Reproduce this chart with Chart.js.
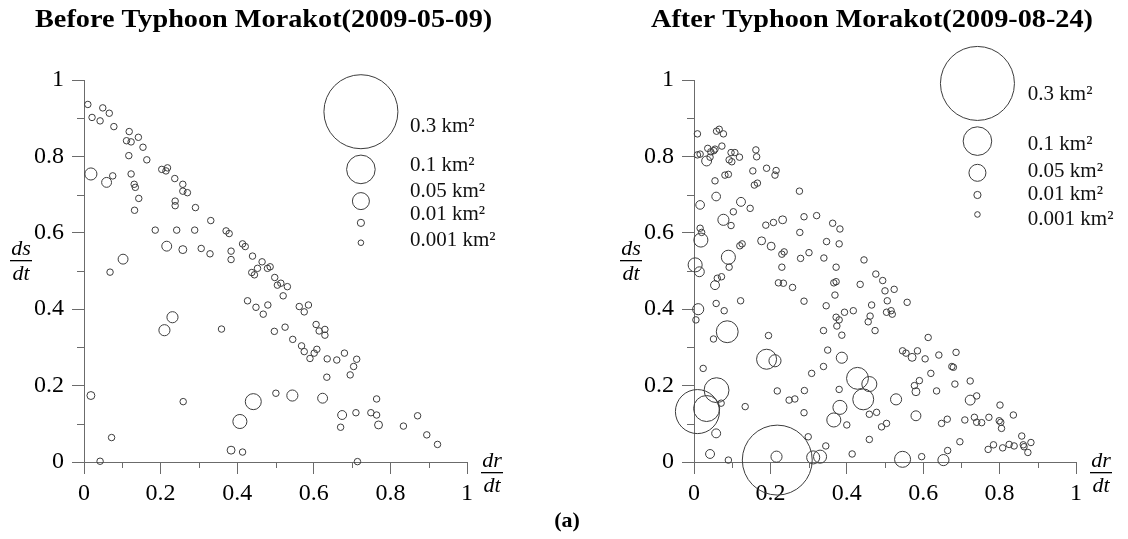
<!DOCTYPE html>
<html>
<head>
<meta charset="utf-8">
<script src="https://cdn.jsdelivr.net/npm/chart.js@4.4.1/dist/chart.umd.min.js"></script>
<style>
  body { margin: 0; background: #fff; }
  #wrap { position: relative; width: 1128px; height: 539px; }
  #before { position: absolute; left: 0; top: 0; }
  #after { position: absolute; left: 564px; top: 0; }
  #caption { position: absolute; left: 3px; width: 1128px; top: 507px; text-align: center;
             font: bold 22px "Liberation Serif", serif; color: #000; }
</style>
</head>
<body>
<div id="wrap">
  <canvas id="before" width="564" height="539"></canvas>
  <canvas id="after" width="564" height="539"></canvas>
  <div id="caption">(a)</div>
</div>
<script>
// Before typhoon: dr/dt, ds/dt and landslide area (km²)
const beforeDrdt = [
  0.010, 0.049, 0.066, 0.021, 0.042, 0.078, 0.118, 0.142, 0.111, 0.123,
  0.154, 0.117, 0.164, 0.203, 0.214, 0.218, 0.237, 0.258, 0.258, 0.270,
  0.238, 0.238, 0.291, 0.331, 0.371, 0.379, 0.414, 0.421, 0.440, 0.465,
  0.018, 0.059, 0.075, 0.123, 0.131, 0.134, 0.143, 0.132, 0.186, 0.242,
  0.289, 0.216, 0.258, 0.306, 0.329, 0.384, 0.384, 0.102, 0.068, 0.438,
  0.445, 0.453, 0.479, 0.486, 0.498, 0.505, 0.427, 0.449, 0.468, 0.480,
  0.497, 0.359, 0.210, 0.231, 0.018, 0.259, 0.072, 0.042, 0.442, 0.407,
  0.384, 0.414, 0.501, 0.514, 0.531, 0.520, 0.525, 0.562, 0.575, 0.586,
  0.606, 0.614, 0.629, 0.629, 0.545, 0.568, 0.575, 0.590, 0.601, 0.608,
  0.635, 0.660, 0.680, 0.712, 0.704, 0.695, 0.634, 0.544, 0.623, 0.674,
  0.710, 0.670, 0.749, 0.764, 0.764, 0.769, 0.834, 0.871, 0.895, 0.923, 0.714
];
const beforeDsdt = [
  0.936, 0.927, 0.913, 0.902, 0.893, 0.878, 0.865, 0.850, 0.841, 0.838,
  0.824, 0.802, 0.791, 0.766, 0.762, 0.770, 0.742, 0.727, 0.709, 0.705,
  0.683, 0.671, 0.666, 0.632, 0.605, 0.598, 0.571, 0.564, 0.539, 0.524,
  0.754, 0.732, 0.749, 0.754, 0.727, 0.719, 0.690, 0.659, 0.607, 0.607,
  0.607, 0.565, 0.556, 0.559, 0.545, 0.552, 0.530, 0.531, 0.497, 0.496,
  0.490, 0.507, 0.507, 0.511, 0.483, 0.463, 0.422, 0.405, 0.387, 0.411,
  0.342, 0.348, 0.345, 0.379, 0.174, 0.158, 0.064, 0.002, 0.158, 0.106,
  0.031, 0.026, 0.180, 0.468, 0.459, 0.435, 0.353, 0.407, 0.393, 0.411,
  0.360, 0.343, 0.347, 0.332, 0.321, 0.304, 0.289, 0.271, 0.285, 0.295,
  0.270, 0.267, 0.285, 0.269, 0.250, 0.228, 0.222, 0.174, 0.167, 0.123,
  0.129, 0.091, 0.129, 0.123, 0.165, 0.097, 0.094, 0.121, 0.071, 0.046, 0.001
];
const beforeArea = [
  0.006, 0.006, 0.006, 0.006, 0.006, 0.006, 0.006, 0.006, 0.006, 0.006,
  0.006, 0.006, 0.006, 0.006, 0.006, 0.006, 0.006, 0.006, 0.006, 0.006,
  0.006, 0.006, 0.006, 0.006, 0.006, 0.006, 0.006, 0.006, 0.006, 0.006,
  0.030, 0.021, 0.006, 0.006, 0.006, 0.006, 0.006, 0.006, 0.006, 0.006,
  0.006, 0.021, 0.013, 0.006, 0.006, 0.006, 0.006, 0.021, 0.006, 0.006,
  0.006, 0.006, 0.006, 0.006, 0.006, 0.006, 0.006, 0.006, 0.006, 0.006,
  0.006, 0.006, 0.026, 0.026, 0.013, 0.006, 0.006, 0.006, 0.046, 0.038,
  0.013, 0.006, 0.006, 0.006, 0.006, 0.006, 0.006, 0.006, 0.006, 0.006,
  0.006, 0.006, 0.006, 0.006, 0.006, 0.006, 0.006, 0.006, 0.006, 0.006,
  0.006, 0.006, 0.006, 0.006, 0.006, 0.006, 0.006, 0.026, 0.021, 0.017,
  0.006, 0.006, 0.006, 0.006, 0.006, 0.013, 0.006, 0.006, 0.006, 0.006, 0.006
];

// After typhoon
const afterDrdt = [
  0.009, 0.059, 0.066, 0.077, 0.009, 0.016, 0.036, 0.044, 0.052, 0.055,
  0.073, 0.042, 0.033, 0.097, 0.107, 0.092, 0.099, 0.119, 0.162, 0.164,
  0.081, 0.090, 0.055, 0.154, 0.190, 0.212, 0.215, 0.158, 0.166, 0.276,
  0.058, 0.016, 0.123, 0.147, 0.103, 0.077, 0.097, 0.016, 0.020, 0.018,
  0.188, 0.208, 0.232, 0.288, 0.321, 0.277, 0.363, 0.382, 0.177, 0.202,
  0.120, 0.126, 0.090, 0.230, 0.236, 0.279, 0.301, 0.340, 0.347, 0.380,
  0.445, 0.003, 0.014, 0.092, 0.230, 0.372, 0.061, 0.072, 0.055, 0.221,
  0.234, 0.258, 0.366, 0.372, 0.369, 0.435, 0.288, 0.346, 0.394, 0.417,
  0.372, 0.380, 0.374, 0.387, 0.456, 0.339, 0.350, 0.339, 0.387, 0.308,
  0.289, 0.249, 0.264, 0.218, 0.288, 0.195, 0.190, 0.212, 0.122, 0.058,
  0.079, 0.011, 0.005, 0.087, 0.051, 0.024, 0.059, 0.033, 0.009, 0.071,
  0.134, 0.058, 0.042, 0.090, 0.218, 0.216, 0.299, 0.312, 0.330, 0.345,
  0.414, 0.459, 0.382, 0.366, 0.400, 0.380, 0.428, 0.459, 0.443, 0.459,
  0.476, 0.494, 0.500, 0.524, 0.506, 0.465, 0.461, 0.474, 0.504, 0.516,
  0.519, 0.558, 0.613, 0.546, 0.555, 0.571, 0.585, 0.605, 0.641, 0.686,
  0.675, 0.679, 0.620, 0.590, 0.577, 0.581, 0.635, 0.683, 0.723, 0.529,
  0.581, 0.478, 0.491, 0.504, 0.648, 0.663, 0.709, 0.734, 0.740, 0.753,
  0.723, 0.740, 0.772, 0.801, 0.836, 0.799, 0.803, 0.805, 0.696, 0.664,
  0.596, 0.546, 0.653, 0.770, 0.784, 0.808, 0.825, 0.838, 0.858, 0.862,
  0.864, 0.882, 0.874
];
const afterDsdt = [
  0.859, 0.866, 0.871, 0.859, 0.804, 0.806, 0.821, 0.812, 0.815, 0.819,
  0.827, 0.798, 0.788, 0.810, 0.810, 0.791, 0.786, 0.798, 0.817, 0.799,
  0.751, 0.753, 0.736, 0.762, 0.769, 0.751, 0.763, 0.725, 0.730, 0.709,
  0.695, 0.673, 0.681, 0.664, 0.655, 0.634, 0.619, 0.612, 0.601, 0.581,
  0.620, 0.627, 0.634, 0.642, 0.645, 0.601, 0.625, 0.610, 0.579, 0.565,
  0.566, 0.571, 0.536, 0.544, 0.550, 0.533, 0.548, 0.534, 0.577, 0.571,
  0.529, 0.516, 0.498, 0.510, 0.510, 0.510, 0.481, 0.485, 0.463, 0.469,
  0.468, 0.457, 0.469, 0.472, 0.437, 0.465, 0.421, 0.409, 0.392, 0.396,
  0.379, 0.372, 0.356, 0.332, 0.367, 0.344, 0.293, 0.250, 0.273, 0.232,
  0.187, 0.162, 0.165, 0.186, 0.129, 0.331, 0.269, 0.265, 0.422, 0.415,
  0.396, 0.400, 0.372, 0.341, 0.322, 0.245, 0.188, 0.140, 0.132, 0.154,
  0.145, 0.075, 0.021, 0.005, 0.005, 0.014, 0.066, 0.012, 0.014, 0.042,
  0.021, 0.059, 0.143, 0.110, 0.097, 0.190, 0.219, 0.204, 0.164, 0.125,
  0.492, 0.475, 0.448, 0.452, 0.422, 0.411, 0.382, 0.344, 0.392, 0.396,
  0.387, 0.418, 0.326, 0.291, 0.285, 0.274, 0.291, 0.270, 0.280, 0.287,
  0.250, 0.248, 0.232, 0.213, 0.200, 0.184, 0.186, 0.204, 0.212, 0.164,
  0.121, 0.130, 0.092, 0.101, 0.101, 0.112, 0.110, 0.117, 0.104, 0.103,
  0.162, 0.173, 0.117, 0.149, 0.123, 0.108, 0.104, 0.088, 0.053, 0.030,
  0.014, 0.007, 0.005, 0.033, 0.045, 0.037, 0.046, 0.042, 0.068, 0.045,
  0.040, 0.051, 0.025
];
const afterArea = [
  0.006, 0.006, 0.006, 0.006, 0.006, 0.006, 0.006, 0.006, 0.006, 0.006,
  0.006, 0.006, 0.021, 0.006, 0.006, 0.006, 0.006, 0.006, 0.006, 0.006,
  0.006, 0.006, 0.006, 0.006, 0.006, 0.006, 0.006, 0.006, 0.006, 0.006,
  0.016, 0.016, 0.017, 0.006, 0.006, 0.026, 0.006, 0.006, 0.006, 0.038,
  0.006, 0.006, 0.013, 0.006, 0.006, 0.006, 0.006, 0.006, 0.013, 0.013,
  0.006, 0.006, 0.038, 0.006, 0.006, 0.006, 0.006, 0.006, 0.006, 0.006,
  0.006, 0.038, 0.021, 0.006, 0.006, 0.006, 0.006, 0.006, 0.017, 0.006,
  0.006, 0.006, 0.006, 0.006, 0.006, 0.006, 0.006, 0.006, 0.006, 0.006,
  0.006, 0.006, 0.006, 0.006, 0.006, 0.006, 0.006, 0.006, 0.026, 0.006,
  0.006, 0.006, 0.006, 0.006, 0.006, 0.006, 0.063, 0.030, 0.006, 0.006,
  0.006, 0.026, 0.006, 0.071, 0.006, 0.006, 0.084, 0.089, 0.168, 0.006,
  0.006, 0.017, 0.017, 0.006, 0.282, 0.026, 0.006, 0.034, 0.034, 0.006,
  0.006, 0.006, 0.038, 0.038, 0.006, 0.006, 0.071, 0.042, 0.067, 0.006,
  0.006, 0.006, 0.006, 0.006, 0.006, 0.006, 0.006, 0.006, 0.006, 0.006,
  0.006, 0.006, 0.006, 0.006, 0.006, 0.013, 0.006, 0.006, 0.006, 0.006,
  0.006, 0.006, 0.006, 0.006, 0.006, 0.013, 0.006, 0.006, 0.006, 0.026,
  0.021, 0.006, 0.006, 0.006, 0.006, 0.006, 0.006, 0.006, 0.006, 0.006,
  0.021, 0.006, 0.006, 0.006, 0.006, 0.006, 0.006, 0.006, 0.006, 0.006,
  0.006, 0.046, 0.026, 0.006, 0.006, 0.006, 0.006, 0.006, 0.006, 0.006,
  0.006, 0.006, 0.006
];

const legendAreas = [0.3, 0.1, 0.05, 0.01, 0.001];
const legendLabels = ['0.3 km²', '0.1 km²', '0.05 km²', '0.01 km²', '0.001 km²'];
const axisTicks = [0, 0.2, 0.4, 0.6, 0.8, 1];
const minorTicks = [0.1, 0.3, 0.5, 0.7, 0.9];

const SERIF = '"Liberation Serif", "Times New Roman", serif';
const AXIS_COLOR = '#6b6b6b';
const MARK_COLOR = '#3c3c3c';

// area -> circle radius in px
const AREA_STOPS = [0.001, 0.01, 0.05, 0.1, 0.3];
const RADIUS_STOPS = [2.8, 3.6, 8.5, 14.3, 37];
function areaToRadius(a) {
  if (a <= AREA_STOPS[0]) return RADIUS_STOPS[0];
  for (let i = 1; i < AREA_STOPS.length; i++) {
    if (a <= AREA_STOPS[i]) {
      const t = (a - AREA_STOPS[i - 1]) / (AREA_STOPS[i] - AREA_STOPS[i - 1]);
      return RADIUS_STOPS[i - 1] + t * (RADIUS_STOPS[i] - RADIUS_STOPS[i - 1]);
    }
  }
  return RADIUS_STOPS[RADIUS_STOPS.length - 1];
}

function drawFraction(ctx, top, bottom, cx, barY) {
  ctx.font = 'italic 22px ' + SERIF;
  ctx.fillStyle = '#000';
  ctx.textAlign = 'center';
  ctx.textBaseline = 'alphabetic';
  ctx.fillText(top, cx, barY - 5);
  ctx.fillText(bottom, cx, barY + 20);
  ctx.fillRect(cx - 11, barY, 22, 1.3);
}

// title, minor ticks, size legend and the dr/dt, ds/dt labels
const decorPlugin = {
  id: 'decor',
  afterDatasetsDraw(chart, args, opts) {
    const ctx = chart.ctx;
    const xs = chart.scales.x;
    const ys = chart.scales.y;
    ctx.save();

    // the source title face is a little wider than Liberation Serif
    ctx.save();
    ctx.translate(opts.title.x, opts.title.y);
    ctx.scale(1.13, 1);
    ctx.font = 'bold 25px ' + SERIF;
    ctx.fillStyle = '#000';
    ctx.textAlign = 'left';
    ctx.textBaseline = 'alphabetic';
    ctx.fillText(opts.title.text, 0, 0);
    ctx.restore();

    ctx.strokeStyle = AXIS_COLOR;
    ctx.lineWidth = 1;
    ctx.beginPath();
    minorTicks.forEach((v) => {
      const px = Math.round(xs.getPixelForValue(v)) + 0.5;
      ctx.moveTo(px, ys.bottom);
      ctx.lineTo(px, ys.bottom + 6);
      const py = Math.round(ys.getPixelForValue(v)) + 0.5;
      ctx.moveTo(xs.left - 7, py);
      ctx.lineTo(xs.left, py);
    });
    ctx.stroke();

    // size legend
    ctx.strokeStyle = MARK_COLOR;
    legendAreas.forEach((a, i) => {
      ctx.beginPath();
      ctx.arc(xs.getPixelForValue(opts.bubbleX), ys.getPixelForValue(opts.bubbleY[i]),
        areaToRadius(a), 0, Math.PI * 2);
      ctx.stroke();
    });
    ctx.fillStyle = '#111';
    ctx.font = '21px ' + SERIF;
    ctx.textAlign = 'left';
    ctx.textBaseline = 'middle';
    legendLabels.forEach((t, i) => {
      ctx.fillText(t, xs.getPixelForValue(opts.textX), ys.getPixelForValue(opts.textY[i]));
    });

    drawFraction(ctx, 'ds', 'dt', opts.yLabel.x, opts.yLabel.bar);
    drawFraction(ctx, 'dr', 'dt', opts.xLabel.x, opts.xLabel.bar);
    ctx.restore();
  }
};

function makePoints(xs, ys, areas) {
  return xs.map((x, i) => ({ x: x, y: ys[i], r: areaToRadius(areas[i]) }));
}

function axis(extra) {
  return Object.assign({
    type: 'linear',
    min: 0,
    max: 1,
    afterBuildTicks: (scale) => { scale.ticks = axisTicks.map((v) => ({ value: v })); },
    border: { display: true, color: AXIS_COLOR, width: 1 },
    grid: { drawOnChartArea: false, drawTicks: true, tickLength: 12, color: AXIS_COLOR, lineWidth: 1 },
  }, extra);
}

function makeChart(id, points, layout) {
  return new Chart(document.getElementById(id), {
    type: 'bubble',
    data: {
      datasets: [{
        data: points,
        backgroundColor: 'rgba(0,0,0,0)',
        borderColor: MARK_COLOR,
        borderWidth: 1,
        clip: false,
      }],
    },
    plugins: [decorPlugin],
    options: {
      responsive: false,
      animation: false,
      devicePixelRatio: 1,
      events: [],
      layout: { padding: { left: 0, right: layout.padRight, top: 80, bottom: 37 } },
      plugins: {
        legend: { display: false },
        tooltip: { enabled: false },
        title: { display: false },
        decor: layout.decor,
      },
      scales: {
        x: axis({
          position: 'bottom',
          afterFit: (scale) => { scale.height = 40; },
          ticks: {
            color: '#000', padding: 5, maxRotation: 0, autoSkip: false,
            font: { family: SERIF, size: 24 },
            callback: (v) => String(v),
          },
        }),
        y: axis({
          position: 'left',
          afterFit: (scale) => { scale.width = layout.yWidth; },
          ticks: {
            color: '#000', padding: 8, autoSkip: false,
            font: { family: SERIF, size: 24 },
            callback: (v) => String(v),
          },
        }),
      },
    },
  });
}

makeChart('before', makePoints(beforeDrdt, beforeDsdt, beforeArea), {
  padRight: 97, yWidth: 84,
  decor: {
    title: { text: 'Before Typhoon Morakot(2009-05-09)', x: 35, y: 27 },
    bubbleX: 0.723, bubbleY: [0.917, 0.766, 0.683, 0.626, 0.574],
    textX: 0.851, textY: [0.878, 0.775, 0.709, 0.647, 0.581],
    yLabel: { x: 21, bar: 260 },
    xLabel: { x: 492, bar: 472 },
  },
});

makeChart('after', makePoints(afterDrdt, afterDsdt, afterArea), {
  padRight: 52, yWidth: 130,
  decor: {
    title: { text: 'After Typhoon Morakot(2009-08-24)', x: 87, y: 27 },
    bubbleX: 0.742, bubbleY: [0.991, 0.840, 0.757, 0.699, 0.648],
    textX: 0.874, textY: [0.961, 0.830, 0.760, 0.699, 0.636],
    yLabel: { x: 67, bar: 260 },
    xLabel: { x: 537, bar: 472 },
  },
});
</script>
</body>
</html>
